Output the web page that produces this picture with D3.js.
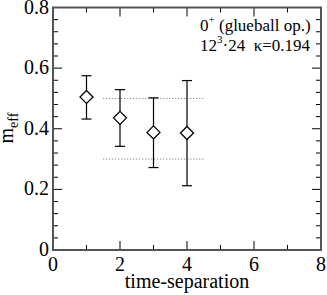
<!DOCTYPE html>
<html>
<head>
<meta charset="utf-8">
<script src="https://cdn.jsdelivr.net/npm/d3@7"></script>
<style>
  body { margin: 0; background: #fff; }
</style>
</head>
<body>
<div id="plot"></div>
<script>
// effective mass vs time separation
const tsep = [1, 2, 3, 4];
const meff = [0.505, 0.436, 0.388, 0.386];
const errHi = [0.575, 0.529, 0.502, 0.559];
const errLo = [0.432, 0.342, 0.272, 0.212];
// dotted band
const bandLevels = [0.5, 0.3];
const bandRange = [1.5, 4.5];
const xTicks = [0, 2, 4, 6, 8];
const yTicks = [0, 0.2, 0.4, 0.6, 0.8];

const W = 327, H = 295;
const margin = {top: 7.5, right: 6, bottom: 45, left: 53};

const svg = d3.select('#plot').append('svg')
    .attr('width', W).attr('height', H)
    .attr('font-family', '"Liberation Serif", "DejaVu Serif", serif');

const x = d3.scaleLinear().domain([0, 8]).range([margin.left, W - margin.right]);
const y = d3.scaleLinear().domain([0, 0.8]).range([H - margin.bottom, margin.top]);

const axisColor = '#555';

// minor + major ticks on all four sides (inward)
const xMinor = d3.range(1, 8, 2);
const yMinor = d3.range(0, 0.8001, 0.04).filter(v => yTicks.every(t => Math.abs(t - v) > 1e-6));
const majLen = 9, minLen = 5;
const tickG = svg.append('g').attr('stroke', '#000').attr('stroke-width', 1);

function vTicks(vals, len) {
    vals.forEach(v => {
        tickG.append('line').attr('x1', x(v)).attr('x2', x(v))
            .attr('y1', y(0)).attr('y2', y(0) - len);
        tickG.append('line').attr('x1', x(v)).attr('x2', x(v))
            .attr('y1', y(0.8)).attr('y2', y(0.8) + len);
    });
}
function hTicks(vals, len) {
    vals.forEach(v => {
        tickG.append('line').attr('y1', y(v)).attr('y2', y(v))
            .attr('x1', x(0)).attr('x2', x(0) + len);
        tickG.append('line').attr('y1', y(v)).attr('y2', y(v))
            .attr('x1', x(8)).attr('x2', x(8) - len);
    });
}
vTicks(xTicks.slice(1, -1), majLen);
vTicks(xMinor, minLen);
hTicks(yTicks.slice(1, -1), majLen);
hTicks(yMinor, minLen);

// frame
svg.append('rect')
    .attr('x', x(0)).attr('y', y(0.8))
    .attr('width', x(8) - x(0)).attr('height', y(0) - y(0.8))
    .attr('fill', 'none').attr('stroke', axisColor).attr('stroke-width', 2);

// tick labels
svg.append('g').selectAll('text').data(xTicks).join('text')
    .attr('x', d => x(d)).attr('y', y(0) + 21)
    .attr('text-anchor', 'middle').attr('font-size', 20)
    .text(d => d);
svg.append('g').selectAll('text').data(yTicks).join('text')
    .attr('x', x(0) - 4).attr('y', d => y(d) + 6)
    .attr('text-anchor', 'end').attr('font-size', 20)
    .text(d => d === 0 ? '0' : d3.format('.1f')(d));

// axis titles
svg.append('text')
    .attr('x', (x(0) + x(8)) / 2).attr('y', 288)
    .attr('text-anchor', 'middle').attr('font-size', 20)
    .text('time-separation');

const yl = svg.append('text')
    .attr('transform', 'translate(13,' + 128 + ') rotate(-90)')
    .attr('text-anchor', 'middle').attr('font-size', 20);
yl.append('tspan').text('m');
yl.append('tspan').attr('font-size', 14).attr('dy', 5).text('eff');

// dotted band lines
svg.append('g').selectAll('line').data(bandLevels).join('line')
    .attr('x1', x(bandRange[0])).attr('x2', x(bandRange[1]))
    .attr('y1', d => y(d)).attr('y2', d => y(d))
    .attr('stroke', '#666').attr('stroke-width', 1)
    .attr('stroke-dasharray', '1,2');

// error bars
const pts = tsep.map((t, i) => ({t, m: meff[i], hi: errHi[i], lo: errLo[i]}));
const eb = svg.append('g').attr('stroke', '#000').attr('stroke-width', 1.2);
pts.forEach(d => {
    eb.append('line').attr('x1', x(d.t)).attr('x2', x(d.t))
        .attr('y1', y(d.hi)).attr('y2', y(d.lo));
    [d.hi, d.lo].forEach(v => {
        eb.append('line').attr('x1', x(d.t) - 5).attr('x2', x(d.t) + 5)
            .attr('y1', y(v)).attr('y2', y(v));
    });
});

// diamonds
const r = 6.5;
svg.append('g').selectAll('path').data(pts).join('path')
    .attr('d', d => {
        const cx = x(d.t), cy = y(d.m);
        return 'M' + cx + ',' + (cy - r) + 'L' + (cx + r) + ',' + cy +
            'L' + cx + ',' + (cy + r) + 'L' + (cx - r) + ',' + cy + 'Z';
    })
    .attr('fill', '#fff').attr('stroke', '#000').attr('stroke-width', 1.3);

// legend text
const l1 = svg.append('text').attr('x', 200).attr('y', 31).attr('font-size', 17);
l1.append('tspan').text('0');
l1.append('tspan').attr('font-size', 11).attr('dy', -8).text('+');
l1.append('tspan').attr('dy', 8).text('\u00a0(glueball op.)');

const l2 = svg.append('text').attr('x', 200).attr('y', 51).attr('font-size', 17);
l2.append('tspan').text('12');
l2.append('tspan').attr('font-size', 11).attr('dy', -8).text('3');
l2.append('tspan').attr('dy', 8).text('\u00b724\u00a0\u00a0\u03ba=0.194');
</script>
</body>
</html>
